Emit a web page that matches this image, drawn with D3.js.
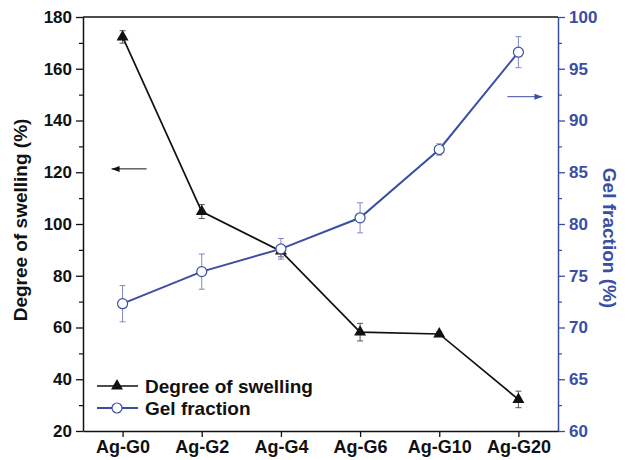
<!DOCTYPE html>
<html>
<head>
<meta charset="utf-8">
<script src="https://cdn.jsdelivr.net/npm/d3@7"></script>
<style>
  body { margin: 0; background: #fff; }
  text { font-family: "Liberation Sans", Arial, sans-serif; font-weight: bold; }
</style>
</head>
<body>
<div id="chart"></div>
<script>
const categories = ['Ag-G0', 'Ag-G2', 'Ag-G4', 'Ag-G6', 'Ag-G10', 'Ag-G20'];
const swelling = [172.3, 104.8, 89.5, 58.2, 57.5, 32.2];
const swellingErr = [2.4, 2.7, 2.2, 3.4, 0.8, 3.2];
const gel = [72.3, 75.4, 77.6, 80.6, 87.2, 96.6];
const gelErr = [1.75, 1.7, 1.0, 1.45, 0.55, 1.5];
const leftTicks = [20, 40, 60, 80, 100, 120, 140, 160, 180];
const rightTicks = [60, 65, 70, 75, 80, 85, 90, 95, 100];

const black = '#111';
const blue = '#3a4ea3';
const blueLight = '#7f8ac6';

const width = 630, height = 460;
const margin = {top: 17, right: 72, bottom: 29, left: 83};

const svg = d3.select('#chart').append('svg')
    .attr('width', width)
    .attr('height', height);

const x = d3.scalePoint()
    .domain(categories)
    .range([margin.left, width - margin.right])
    .padding(0.5);

const yL = d3.scaleLinear()
    .domain([20, 180])
    .range([height - margin.bottom, margin.top]);

const yR = d3.scaleLinear()
    .domain([60, 100])
    .range([height - margin.bottom, margin.top]);

// minor ticks
const leftMinor = d3.range(30, 180, 20);
const rightMinor = d3.range(62.5, 100, 5);

svg.append('g')
    .attr('transform', `translate(${margin.left},0)`)
    .call(d3.axisLeft(yL).tickValues(leftMinor).tickSize(4).tickFormat(''))
    .call(g => g.select('.domain').remove())
    .call(g => g.selectAll('line').attr('stroke', black).attr('stroke-width', 1.2));

svg.append('g')
    .attr('transform', `translate(${width - margin.right},0)`)
    .call(d3.axisRight(yR).tickValues(rightMinor).tickSize(4).tickFormat(''))
    .call(g => g.select('.domain').remove())
    .call(g => g.selectAll('line').attr('stroke', blue).attr('stroke-width', 1.2));

// left axis
svg.append('g')
    .attr('transform', `translate(${margin.left},0)`)
    .call(d3.axisLeft(yL).tickValues(leftTicks).tickSize(7).tickSizeOuter(0).tickPadding(4))
    .call(g => g.select('.domain').attr('stroke', black).attr('stroke-width', 1.5))
    .call(g => g.selectAll('line').attr('stroke', black).attr('stroke-width', 1.3))
    .call(g => g.selectAll('text').attr('fill', black).style('font-size', '17px'));

// right axis
svg.append('g')
    .attr('transform', `translate(${width - margin.right},0)`)
    .call(d3.axisRight(yR).tickValues(rightTicks).tickSize(7).tickSizeOuter(0).tickPadding(4))
    .call(g => g.select('.domain').attr('stroke', blue).attr('stroke-width', 1.5))
    .call(g => g.selectAll('line').attr('stroke', blue).attr('stroke-width', 1.3))
    .call(g => g.selectAll('text').attr('fill', blue).style('font-size', '17px'));

// bottom axis
svg.append('g')
    .attr('transform', `translate(0,${height - margin.bottom})`)
    .call(d3.axisBottom(x).tickSize(6).tickSizeOuter(0).tickPadding(3))
    .call(g => g.select('.domain').attr('stroke', black).attr('stroke-width', 1.5))
    .call(g => g.selectAll('line').attr('stroke', black).attr('stroke-width', 1.3))
    .call(g => g.selectAll('text').attr('fill', black).style('font-size', '18px'));

// top frame line
svg.append('line')
    .attr('x1', margin.left).attr('x2', width - margin.right)
    .attr('y1', margin.top).attr('y2', margin.top)
    .attr('stroke', black).attr('stroke-width', 1.5);

// axis titles
svg.append('text')
    .attr('transform', `translate(27,${(margin.top + height - margin.bottom) / 2 - 4}) rotate(-90)`)
    .attr('text-anchor', 'middle')
    .style('font-size', '19px')
    .attr('fill', black)
    .text('Degree of swelling (%)');

svg.append('text')
    .attr('transform', `translate(603,${(margin.top + height - margin.bottom) / 2 + 14}) rotate(90)`)
    .attr('text-anchor', 'middle')
    .style('font-size', '19px')
    .attr('fill', blue)
    .text('Gel fraction (%)');

const capW = 3;

const swData = categories.map((c, i) => ({c, v: swelling[i], e: swellingErr[i]}));
const gelData = categories.map((c, i) => ({c, v: gel[i], e: gelErr[i]}));

function errorBars(data, scale, color) {
    const g = svg.append('g').attr('stroke', color).attr('stroke-width', 1);
    data.forEach(d => {
        const px = x(d.c);
        g.append('line').attr('x1', px).attr('x2', px)
            .attr('y1', scale(d.v - d.e)).attr('y2', scale(d.v + d.e));
        [d.v - d.e, d.v + d.e].forEach(v => {
            g.append('line').attr('x1', px - capW).attr('x2', px + capW)
                .attr('y1', scale(v)).attr('y2', scale(v));
        });
    });
}

// swelling series
errorBars(swData, yL, '#555');

svg.append('path')
    .datum(swData)
    .attr('fill', 'none')
    .attr('stroke', black)
    .attr('stroke-width', 1.7)
    .attr('d', d3.line().x(d => x(d.c)).y(d => yL(d.v)));

const tri = d3.symbol().type(d3.symbolTriangle).size(62);
svg.selectAll('.tri')
    .data(swData)
    .enter()
    .append('path')
    .attr('class', 'tri')
    .attr('transform', d => `translate(${x(d.c)},${yL(d.v)})`)
    .attr('d', tri)
    .attr('fill', black);

// gel series
errorBars(gelData, yR, blueLight);

svg.append('path')
    .datum(gelData)
    .attr('fill', 'none')
    .attr('stroke', blue)
    .attr('stroke-width', 2)
    .attr('d', d3.line().x(d => x(d.c)).y(d => yR(d.v)));

svg.selectAll('.circ')
    .data(gelData)
    .enter()
    .append('circle')
    .attr('class', 'circ')
    .attr('cx', d => x(d.c))
    .attr('cy', d => yR(d.v))
    .attr('r', 5)
    .attr('fill', '#fff')
    .attr('stroke', blue)
    .attr('stroke-width', 1.2);

// direction arrows
function arrow(x1, x2, y, color) {
    svg.append('line')
        .attr('x1', x1).attr('x2', x2).attr('y1', y).attr('y2', y)
        .attr('stroke', color).attr('stroke-width', 1);
    const dir = Math.sign(x2 - x1);
    svg.append('path')
        .attr('d', `M${x2},${y} L${x2 - dir * 8},${y - 3} L${x2 - dir * 8},${y + 3} Z`)
        .attr('fill', color);
}
arrow(x('Ag-G0') + 24, x('Ag-G0') - 11, yL(121.3), black);
arrow(x('Ag-G20') - 11, x('Ag-G20') + 24, yR(92.3), blue);

// legend
const legend = svg.append('g').attr('transform', `translate(97,386)`);
const legendItems = [
    {label: 'Degree of swelling', color: black, marker: 'tri'},
    {label: 'Gel fraction', color: blue, marker: 'circ'}
];
legendItems.forEach((it, i) => {
    const yy = i * 22;
    legend.append('line')
        .attr('x1', 0).attr('x2', 41).attr('y1', yy).attr('y2', yy)
        .attr('stroke', it.color).attr('stroke-width', it.marker === 'tri' ? 1.6 : 2);
    if (it.marker === 'tri') {
        legend.append('path')
            .attr('transform', `translate(20,${yy})`)
            .attr('d', tri)
            .attr('fill', black);
    } else {
        legend.append('circle')
            .attr('cx', 20).attr('cy', yy).attr('r', 5)
            .attr('fill', '#fff').attr('stroke', blue).attr('stroke-width', 1.2);
    }
    legend.append('text')
        .attr('x', 48)
        .attr('y', yy)
        .attr('dy', '0.35em')
        .style('font-size', '19px')
        .attr('fill', black)
        .text(it.label);
});
</script>
</body>
</html>
